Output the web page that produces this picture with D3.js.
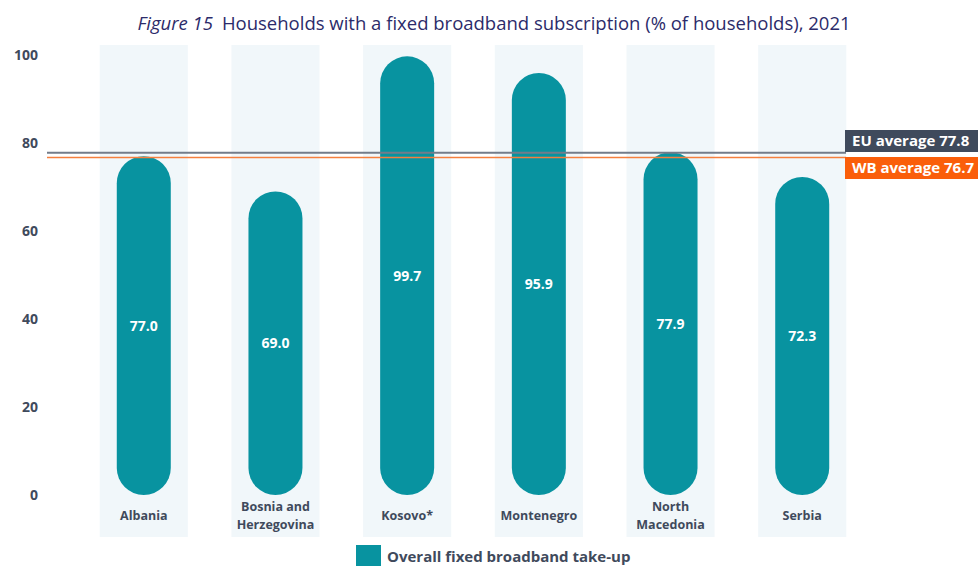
<!DOCTYPE html>
<html>
<head>
<meta charset="utf-8">
<script src="https://cdn.jsdelivr.net/npm/d3@7"></script>
<style>
  body { margin: 0; background: #fff; }
  svg { font-family: "Open Sans", "Noto Sans", sans-serif; }
</style>
</head>
<body>
<div id="chart"></div>
<script>
// chart data
var countries = [["Albania"], ["Bosnia and", "Herzegovina"], ["Kosovo*"], ["Montenegro"], ["North", "Macedonia"], ["Serbia"]];
var takeUp = [77.0, 69.0, 99.7, 95.9, 77.9, 72.3];
var yTicks = [0, 20, 40, 60, 80, 100];
var averages = [
    {name: "EU average", value: 77.8},
    {name: "WB average", value: 76.7}
];
var legendLabel = "Overall fixed broadband take-up";

var svgWidth = 978, svgHeight = 566;
var teal = "#0893a0", textCol = "#3f4a5c";

var svg = d3.select("#chart").append("svg")
    .attr("width", svgWidth)
    .attr("height", svgHeight);

var x = d3.scaleBand()
    .domain(d3.range(countries.length))
    .range([78, 868])
    .paddingInner(0.331)
    .paddingOuter(0.165);

var y = d3.scaleLinear().domain([0, 100]).range([495, 55]);

// title
var title = svg.append("text")
    .attr("x", 494)
    .attr("y", 30)
    .attr("text-anchor", "middle")
    .attr("fill", "#2c2b6a")
    .style("font-size", "18.5px");
title.append("tspan").attr("font-style", "italic").text("Figure 15");
title.append("tspan").attr("dx", 9).text("Households with a fixed broadband subscription (% of households), 2021");

// light column backgrounds
svg.selectAll("rect.bg")
    .data(takeUp)
    .enter()
    .append("rect")
    .attr("class", "bg")
    .attr("x", function (d, i) { return x(i); })
    .attr("y", 45)
    .attr("width", x.bandwidth())
    .attr("height", 492)
    .attr("fill", "#f1f7fa");

// y axis labels
svg.selectAll("text.ytick")
    .data(yTicks)
    .enter()
    .append("text")
    .attr("class", "ytick")
    .attr("x", 38)
    .attr("y", function (d) { return y(d); })
    .attr("dy", "0.35em")
    .attr("text-anchor", "end")
    .attr("fill", textCol)
    .attr("font-weight", "bold")
    .style("font-size", "14px")
    .text(function (d) { return d; });

// bars (pill shaped)
var barW = 54;
svg.selectAll("rect.bar")
    .data(takeUp)
    .enter()
    .append("rect")
    .attr("class", "bar")
    .attr("x", function (d, i) { return x(i) + x.bandwidth() / 2 - barW / 2; })
    .attr("y", function (d) { return y(d); })
    .attr("width", barW)
    .attr("height", function (d) { return y(0) - y(d); })
    .attr("rx", barW / 2)
    .attr("fill", teal);

// value labels
svg.selectAll("text.val")
    .data(takeUp)
    .enter()
    .append("text")
    .attr("class", "val")
    .attr("x", function (d, i) { return x(i) + x.bandwidth() / 2; })
    .attr("y", function (d) { return (y(d) + y(0)) / 2; })
    .attr("dy", "0.35em")
    .attr("text-anchor", "middle")
    .attr("fill", "#fff")
    .attr("font-weight", "bold")
    .style("font-size", "14px")
    .text(function (d) { return d.toFixed(1); });

// category labels
svg.selectAll("text.cat")
    .data(countries)
    .enter()
    .append("text")
    .attr("class", "cat")
    .attr("text-anchor", "middle")
    .attr("fill", textCol)
    .attr("font-weight", "bold")
    .style("font-size", "12.5px")
    .each(function (lines, i) {
        var t = d3.select(this);
        var cx = x(i) + x.bandwidth() / 2;
        var startY = lines.length > 1 ? 511 : 520;
        lines.forEach(function (l, j) {
            t.append("tspan").attr("x", cx).attr("y", startY + j * 18).text(l);
        });
    });

// average lines and their labels
var avgStyle = [
    {line: "#737c8a", width: 2, box: "#3f4a5c", boxY: 130},
    {line: "#f57f3e", width: 1.5, box: "#fa5e0a", boxY: 157}
];
averages.forEach(function (a, i) {
    var s = avgStyle[i];
    svg.append("line")
        .attr("x1", 47)
        .attr("x2", 846)
        .attr("y1", y(a.value))
        .attr("y2", y(a.value))
        .attr("stroke", s.line)
        .attr("stroke-width", s.width);
    svg.append("rect")
        .attr("x", 845)
        .attr("y", s.boxY)
        .attr("width", 133)
        .attr("height", 22)
        .attr("fill", s.box);
    svg.append("text")
        .attr("x", 852)
        .attr("y", s.boxY + 11)
        .attr("dy", "0.35em")
        .attr("fill", "#fff")
        .attr("font-weight", "bold")
        .style("font-size", "15px")
        .text(a.name + " " + a.value);
});

// legend
svg.append("rect")
    .attr("x", 356)
    .attr("y", 545)
    .attr("width", 25)
    .attr("height", 21)
    .attr("fill", teal);
svg.append("text")
    .attr("x", 387)
    .attr("y", 557)
    .attr("dy", "0.35em")
    .attr("fill", textCol)
    .attr("font-weight", "bold")
    .style("font-size", "15px")
    .text(legendLabel);
</script>
</body>
</html>
